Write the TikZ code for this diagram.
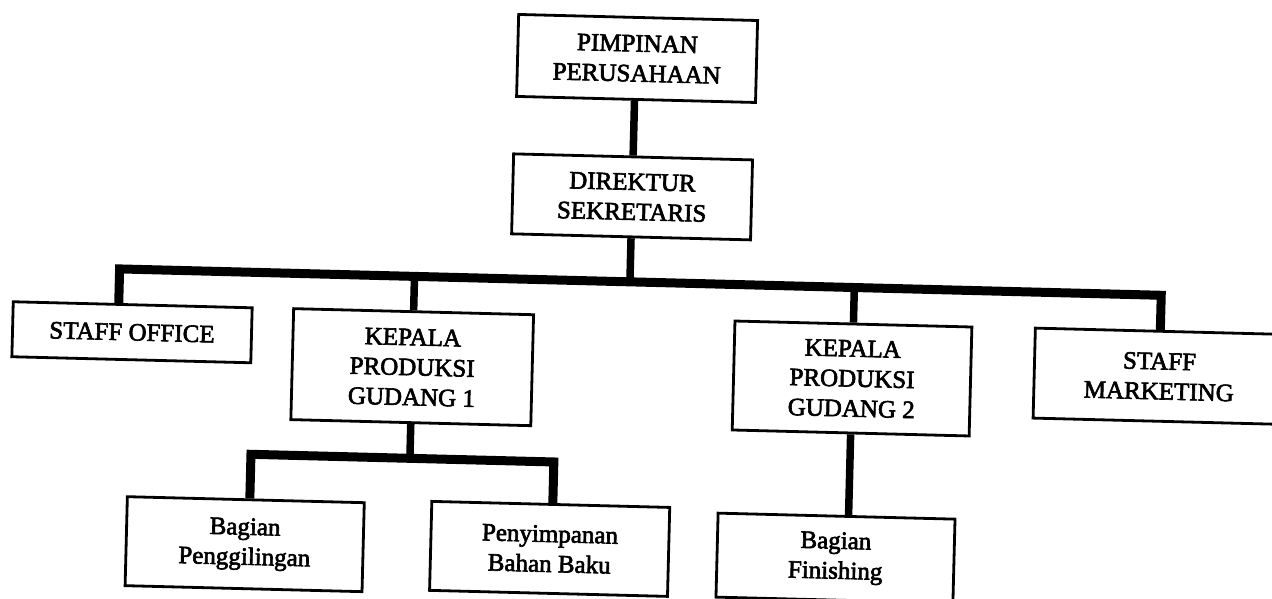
\documentclass[tikz,border=0pt]{standalone}
\usepackage{fontspec}
\setmainfont{Liberation Serif}
\newfontfamily\heavyserif{Liberation Serif}[FakeBold=2.5]
\begin{document}
\begin{tikzpicture}[x=1pt,y=-1pt,
  box/.style={draw=black,line width=2.8pt,fill=white,align=center,inner sep=0pt,
    font=\heavyserif\fontsize{25}{30}\selectfont},
  bar/.style={line width=9pt,line cap=butt,line join=miter},
  conn/.style={line width=7.5pt,line cap=butt}]
\useasboundingbox[fill=white] (0,0) rectangle (1272,598);
\begin{scope}[rotate around={-1.45:(636,299)},transform shape]
\node[box,minimum width=239pt,minimum height=82pt] (pp) at (631,58.5) {PIMPINAN\\PERUSAHAAN};
\node[box,minimum width=239pt,minimum height=80pt] (ds) at (629.5,197) {DIREKTUR\\SEKRETARIS};
\node[box,minimum width=239pt,minimum height=55pt] (so) at (133,345) {STAFF OFFICE};
\node[box,minimum width=240pt,minimum height=111pt] (k1) at (414,372.8) {KEPALA\\PRODUKSI\\GUDANG 1};
\node[box,minimum width=237pt,minimum height=109pt] (k2) at (854,373) {KEPALA\\PRODUKSI\\GUDANG 2};
\node[box,minimum width=250pt,minimum height=90pt] (sm) at (1161,363) {STAFF\\MARKETING};
\node[box,minimum width=237pt,minimum height=89pt] (bp) at (251,554) {Bagian\\Penggilingan};
\node[box,minimum width=238pt,minimum height=89pt] (pb) at (556,551) {Penyimpanan\\Bahan Baku};
\node[box,minimum width=237pt,minimum height=84pt] (bf) at (842,553) {Bagian\\Finishing};
\coordinate (barL) at (119,282);
\coordinate (sub) at (255,464);
\draw[conn] (ds.north) -- (ds.north |- pp.south);
\draw[conn] (ds.south) -- (ds.south |- barL);
\draw[bar] (so.north -| barL) -- (barL) -- (barL -| sm.north) -- (sm.north);
\draw[conn] (k1.north) -- (k1.north |- barL);
\draw[conn] (k2.north) -- (k2.north |- barL);
\draw[conn] (k1.south) -- (k1.south |- sub);
\draw[bar] (bp.north -| sub) -- (sub) -- (sub -| 558,0) -- (pb.north -| 558,0);
\draw[conn] (k2.south) -- (k2.south |- bf.north);
\end{scope}
\end{tikzpicture}
\end{document}
